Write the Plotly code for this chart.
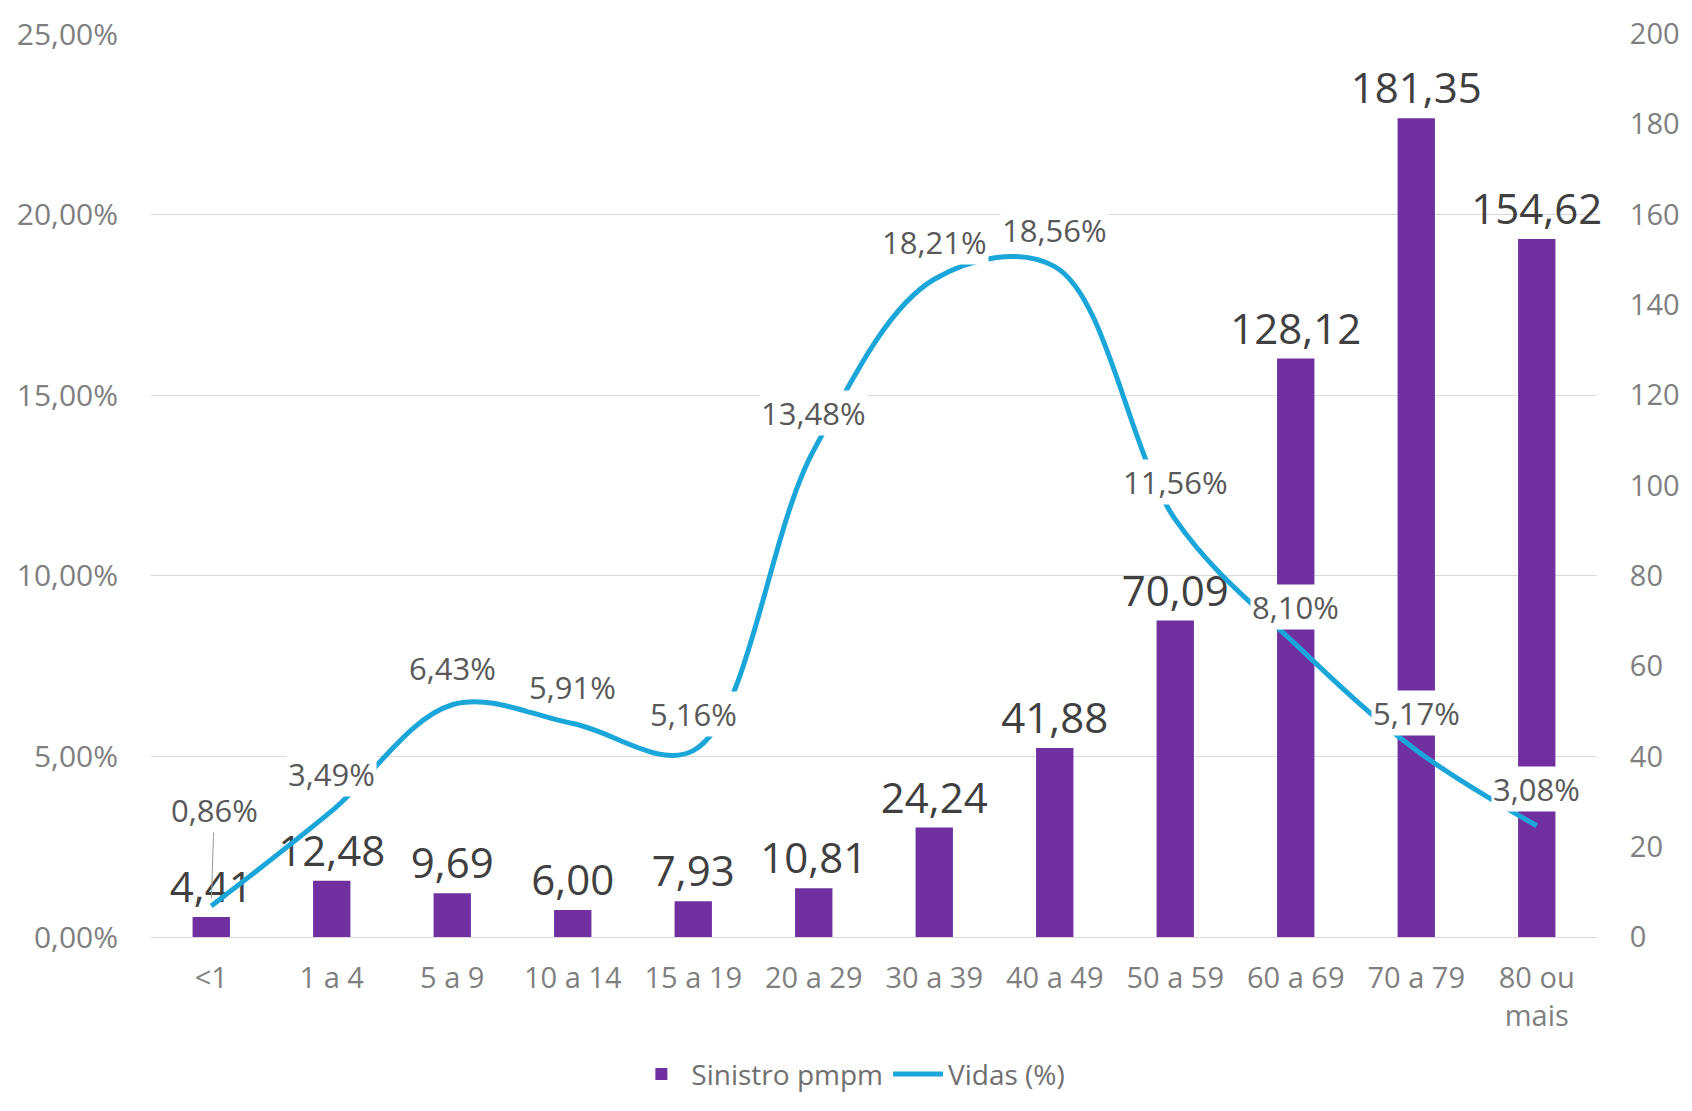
import plotly.graph_objects as go

categories = ["<1", "1 a 4", "5 a 9", "10 a 14", "15 a 19", "20 a 29", "30 a 39",
              "40 a 49", "50 a 59", "60 a 69", "70 a 79", "80 ou<br>mais"]
sinistro_pmpm = [4.41, 12.48, 9.69, 6.00, 7.93, 10.81, 24.24, 41.88, 70.09, 128.12, 181.35, 154.62]
vidas_pct = [0.86, 3.49, 6.43, 5.91, 5.16, 13.48, 18.21, 18.56, 11.56, 8.10, 5.17, 3.08]

left_ticks = [0, 5, 10, 15, 20, 25]
left_ticktext = ["0,00%", "5,00%", "10,00%", "15,00%", "20,00%", "25,00%"]
right_ticks = list(range(0, 201, 20))

FONT = "Open Sans, Liberation Sans, Arial, sans-serif"
BAR_COLOR = "#7030A0"
LINE_COLOR = "#1BA6DA"

def br(v):
    return f"{v:.2f}".replace(".", ",")

fig = go.Figure()

fig.add_trace(go.Bar(
    x=categories, y=sinistro_pmpm, name="Sinistro pmpm",
    marker=dict(color=BAR_COLOR, line=dict(width=0)),
    width=0.31,
    text=[br(v) for v in sinistro_pmpm], textposition="outside",
    constraintext="none",
    textfont=dict(size=42, color="#404040", family=FONT),
    cliponaxis=False, yaxis="y",
))

fig.add_trace(go.Scatter(
    x=categories, y=vidas_pct, name="Vidas (%)", mode="lines",
    line=dict(color=LINE_COLOR, width=5, shape="spline", smoothing=1.0),
    yaxis="y2",
))

annotations = []
for i, (c, v) in enumerate(zip(categories, vidas_pct)):
    txt = br(v) + "%"
    if i == 0:
        annotations.append(dict(
            x=c, y=v, xref="x", yref="y2", text=txt, showarrow=True,
            arrowhead=0, arrowwidth=1, arrowcolor="#9a9a9a", ax=3, ay=-96,
            standoff=8, bgcolor="rgba(255,255,255,0.9)", borderpad=1,
            font=dict(size=31, color="#595959", family=FONT),
        ))
    else:
        annotations.append(dict(
            x=c, y=v, xref="x", yref="y2", text=txt, showarrow=False,
            yshift=37, bgcolor="white", borderpad=1,
            font=dict(size=31, color="#595959", family=FONT),
        ))

fig.update_layout(
    width=1692, height=1111,
    margin=dict(l=151, r=90, t=30, b=161),
    paper_bgcolor="white", plot_bgcolor="rgba(0,0,0,0)",
    font=dict(family=FONT, color="#7f7f7f", size=28),
    showlegend=True,
    legend=dict(orientation="h", x=0.484, xanchor="center", y=-0.152, yanchor="middle",
                font=dict(size=28, color="#6f6f6f", family=FONT),
                itemwidth=50, traceorder="normal", bgcolor="rgba(0,0,0,0)"),
    xaxis=dict(showgrid=False, showline=True, linecolor="#d9d9d9", linewidth=1,
               ticks="outside", ticklen=15, tickcolor="rgba(0,0,0,0)",
               tickfont=dict(size=29, color="#7f7f7f")),
    yaxis=dict(side="right", range=[0, 200], tickvals=right_ticks,
               showgrid=False, zeroline=False, showline=False,
               ticks="outside", ticklen=26, tickcolor="rgba(0,0,0,0)",
               tickfont=dict(size=29, color="#7f7f7f")),
    yaxis2=dict(side="left", overlaying="y", range=[0, 25], tickvals=left_ticks,
                ticktext=left_ticktext, showgrid=True, gridcolor="#d9d9d9", gridwidth=1,
                zeroline=False, showline=False,
                ticks="outside", ticklen=26, tickcolor="rgba(0,0,0,0)",
                tickfont=dict(size=30, color="#7f7f7f")),
    annotations=annotations,
)

fig.write_html(
    "out.html",
    config={"displayModeBar": False},
    post_script=(
        "document.body.style.margin='0';"
        "document.body.style.overflow='hidden';"
        "document.documentElement.style.overflow='hidden';"
        "var g=document.getElementsByClassName('plotly-graph-div')[0];"
        "g.style.position='fixed';g.style.left='0px';g.style.top='0px';"
    ),
)
